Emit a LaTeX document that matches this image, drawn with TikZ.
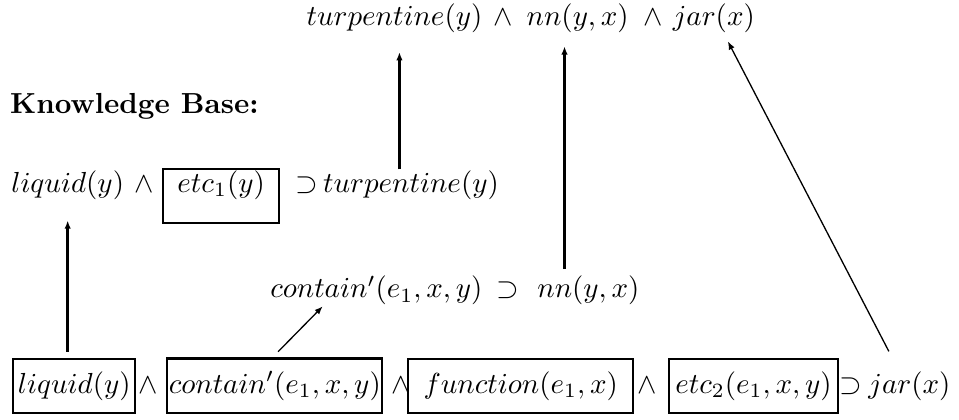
\documentclass[tikz,border=0pt]{standalone}
\usepackage{amsmath,amssymb}
\usetikzlibrary{arrows.meta}

\begin{document}
\begin{tikzpicture}[
  fm/.style={anchor=base},
  lit/.style={draw,rectangle,line width=0.7pt,anchor=base,inner xsep=1pt,
              minimum height=0.666cm},
  etcb/.style={draw,rectangle,line width=0.7pt,anchor=base,inner xsep=1pt,
               inner ysep=0.5pt,text height=7.5pt,text depth=10.2pt},
  arr/.style={-{Latex[length=2.8pt,width=2.2pt]},line width=0.9pt},
  tarr/.style={-{Latex[length=2.8pt,width=2.2pt]},line width=0.45pt}
]
\useasboundingbox (0,0) rectangle (11.62,5.08);

% Goal
\node[fm] (tp1) at (4.78,4.77) {$turpentine(y)$};
\node[fm] (an5) at (6.10,4.77) {$\wedge$};
\node[fm] (nn1) at (7.00,4.77) {$nn(y,x)$};
\node[fm] (an6) at (7.91,4.77) {$\wedge$};
\node[fm] (jr1) at (8.65,4.77) {$jar(x)$};

\node[fm,anchor=base west] (kb) at (0,3.71) {\textbf{Knowledge Base:}};

% Axioms
\node[fm] (lq2) at (0.82,2.75) {$liquid(y)$};
\node[fm] (an1) at (1.75,2.75) {$\wedge$};
\node[etcb,minimum width=1.41cm] (et1) at (2.68,2.75) {$etc_1(y)$};
\node[fm] (sp1) at (3.72,2.75) {$\supset$};
\node[fm] (tp2) at (4.98,2.75) {$turpentine(y)$};

\node[fm] (ct3) at (4.56,1.47) {$contain'(e_1,x,y)$};
\node[fm] (sp2) at (6.15,1.47) {$\supset$};
\node[fm] (nn3) at (7.13,1.47) {$nn(y,x)$};

% Bottom axiom
\node[lit,minimum width=1.48cm] (lq0) at (0.90,0.315) {$liquid(y)$};
\node[fm] (an2) at (1.79,0.315) {$\wedge$};
\node[lit,minimum width=2.46cm,inner xsep=0.5pt] (ct0) at (3.33,0.315) {$contain'(e_1,x,y)$};
\node[fm] (an3) at (4.86,0.315) {$\wedge$};
\node[lit,minimum width=2.73cm] (fn0) at (6.31,0.315) {$function(e_1,x)$};
\node[fm] (an4) at (7.84,0.315) {$\wedge$};
\node[lit,minimum width=2.05cm] (et2) at (9.13,0.315) {$etc_2(e_1,x,y)$};
\node[fm] (sp3) at (10.31,0.315) {$\supset$};
\node[fm] (jr0) at (11.02,0.315) {$jar(x)$};

% Arrows
\draw[arr] ([yshift=0.07cm]lq2.south |- lq0.north) -- ([yshift=-0.13cm]lq2.south);
\draw[tarr] ([xshift=0.04cm,yshift=0.07cm]ct0.north) -- ([xshift=-0.65cm,yshift=0.11cm]ct3.south);
\draw[arr] ([xshift=-0.14cm,yshift=-0.11cm]tp2.north) -- ([xshift=-0.14cm,yshift=-0.11cm]tp2.north |- tp1.south);
\draw[arr] ([xshift=-0.29cm,yshift=-0.04cm]nn3.north) -- ([xshift=-0.29cm,yshift=-0.04cm]nn3.north |- nn1.south);
\draw[tarr] ([xshift=-0.25cm,yshift=0.12cm]jr0.north) -- ([xshift=0.17cm,yshift=0.02cm]jr1.south);

\end{tikzpicture}
\end{document}
